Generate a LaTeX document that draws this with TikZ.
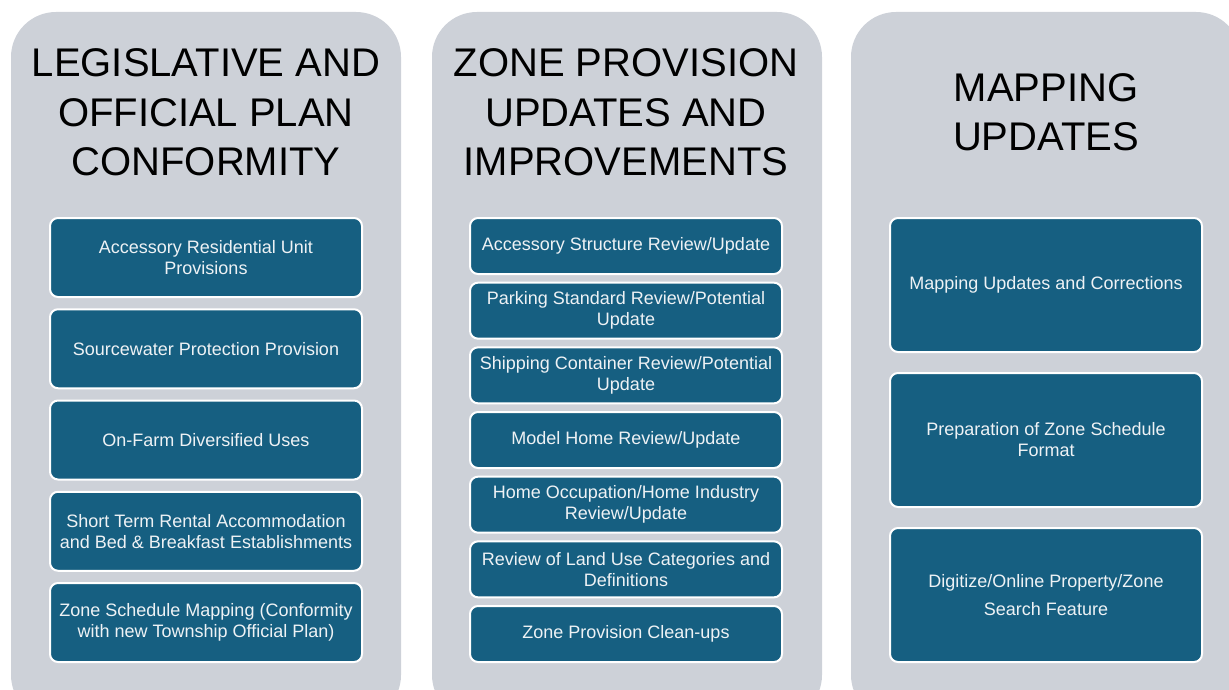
\documentclass[tikz,border=0pt]{standalone}
\usepackage{fontspec}
\setmainfont{Liberation Sans}
\begin{document}
\definecolor{panelgray}{HTML}{CDD1D8}
\definecolor{itemblue}{HTML}{165F81}
\definecolor{itemtext}{HTML}{EEF2F5}
\begin{tikzpicture}[x=1pt,y=-1pt,
  panel/.style={fill=panelgray, rounded corners=45pt},
  heading/.style={align=center, inner sep=0pt, text=black,
    font=\fontsize{40}{49.5}\selectfont},
  item/.style={draw=white, line width=2pt, fill=itemblue, rounded corners=8pt,
    minimum width=312pt, align=center, inner sep=0pt, text=itemtext,
    font=\fontsize{18}{21}\selectfont},
  itemA/.style={item, minimum height=79pt},
  itemB/.style={item, minimum height=56pt},
  itemC/.style={item, minimum height=134pt}]
\useasboundingbox (0,0) rectangle (1229,690);
\clip (0,0) rectangle (1229,690);

% background panels
\fill[panel] (11,12) rectangle (401,720);
\fill[panel] (432,12) rectangle (822,720);
\fill[panel] (851,12) rectangle (1241,720);

% column headings
\node[heading] (h1) at (206,112.5) {LEGISLATIVE AND\\OFFICIAL PLAN\\CONFORMITY};
\node[heading] (h2) at (626,112.5) {ZONE PROVISION\\UPDATES AND\\IMPROVEMENTS};
\node[heading] (h3) at (1046,112) {MAPPING\\UPDATES};

% legislative and official plan conformity
\node[itemA] (a1) at (206,257.5) {Accessory Residential Unit\\Provisions};
\node[itemA] (a2) at (206,348.75) {Sourcewater Protection Provision};
\node[itemA] (a3) at (206,440) {On-Farm Diversified Uses};
\node[itemA] (a4) at (206,531.25) {Short Term Rental Accommodation\\and Bed \& Breakfast Establishments};
\node[itemA] (a5) at (206,622.5) {Zone Schedule Mapping (Conformity\\with new Township Official Plan)};

% zone provision updates and improvements
\node[itemB] (b1) at (626,246) {Accessory Structure Review/Update};
\node[itemB] (b2) at (626,310.67) {Parking Standard Review/Potential\\Update};
\node[itemB] (b3) at (626,375.33) {Shipping Container Review/Potential\\Update};
\node[itemB] (b4) at (626,440) {Model Home Review/Update};
\node[itemB] (b5) at (626,504.67) {Home Occupation/Home Industry\\Review/Update};
\node[itemB] (b6) at (626,569.33) {Review of Land Use Categories and\\Definitions};
\node[itemB] (b7) at (626,634) {Zone Provision Clean-ups};

% mapping updates
\node[itemC] (c1) at (1046,285) {Mapping Updates and Corrections};
\node[itemC] (c2) at (1046,440) {Preparation of Zone Schedule\\Format};
\node[itemC, font=\fontsize{18}{28.5}\selectfont] (c3) at (1046,595) {Digitize/Online Property/Zone\\Search Feature};
\end{tikzpicture}
\end{document}
